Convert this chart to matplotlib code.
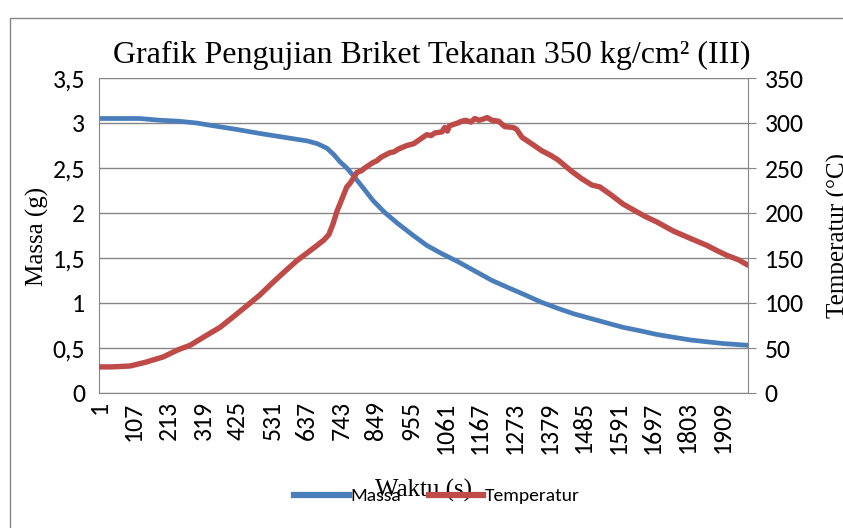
import matplotlib
matplotlib.use("Agg")
import matplotlib.pyplot as plt
from matplotlib.lines import Line2D
from matplotlib.patches import Rectangle
import logging

logging.getLogger("matplotlib.font_manager").setLevel(logging.ERROR)

# --- data ---
judul = "Grafik Pengujian Briket Tekanan 350 kg/cm² (III)"
n_data = 1989

massa_x = [1, 60, 125, 190, 245, 300, 350, 420, 500, 570, 640, 670, 699, 720, 739,
           760, 779, 810, 840, 875, 914, 960, 1005, 1050, 1100, 1150, 1205, 1255,
           1306, 1355, 1407, 1455, 1505, 1555, 1606, 1660, 1710, 1760, 1811, 1860,
           1912, 1989]
massa_y = [3.05, 3.05, 3.05, 3.03, 3.02, 3.00, 2.97, 2.93, 2.88, 2.84, 2.80, 2.77,
           2.72, 2.65, 2.57, 2.50, 2.42, 2.28, 2.14, 2.01, 1.89, 1.76, 1.64, 1.55,
           1.46, 1.36, 1.25, 1.17, 1.09, 1.01, 0.94, 0.88, 0.83, 0.78, 0.73, 0.69,
           0.65, 0.62, 0.59, 0.57, 0.55, 0.53]

suhu_x = [1, 40, 96, 142, 197, 243, 280, 330, 372, 410, 454, 494, 534, 570, 607,
          640, 669, 690, 705, 718, 730, 739, 750, 760, 770, 791, 805, 815, 840,
          852, 865, 892, 905, 918, 944, 965, 985, 1005, 1018, 1030, 1051, 1060,
          1068, 1075, 1100, 1112, 1125, 1140, 1152, 1165, 1175, 1190, 1205, 1225,
          1244, 1270, 1280, 1297, 1330, 1358, 1385, 1407, 1430, 1450, 1480, 1511,
          1535, 1570, 1606, 1640, 1675, 1710, 1760, 1811, 1863, 1895, 1924, 1960,
          1989]
suhu_y = [29, 29, 30, 34, 40, 48, 53, 64, 73, 84, 97, 109, 123, 135, 147,
          156, 164, 170, 176, 188, 202, 210, 220, 229, 233, 245, 247, 250, 256,
          258, 262, 267, 268, 271, 275, 277, 282, 287, 286, 289, 290, 295,
          291, 297, 300, 302, 303, 301, 305, 303, 304, 306, 303, 302,
          296, 295, 293, 284, 276, 269, 264, 259, 252, 246, 238, 231,
          229, 220, 210, 203, 196, 190, 180, 172, 164, 158, 153, 148,
          142]

x_ticks = list(range(1, n_data, 106))
y1_ticks = [0, 0.5, 1, 1.5, 2, 2.5, 3, 3.5]
y1_labels = ["0", "0,5", "1", "1,5", "2", "2,5", "3", "3,5"]
y2_ticks = [0, 50, 100, 150, 200, 250, 300, 350]

# --- styling ---
SERIF = ["Liberation Serif", "DejaVu Serif"]
SANS = ["Carlito", "Liberation Sans Narrow", "Liberation Sans", "DejaVu Sans"]
BIRU = "#4A7EBB"
MERAH = "#BE4B48"
ABU = "#868686"

W, H = 843, 528
fig = plt.figure(figsize=(W / 100, H / 100), dpi=100)
fig.patch.set_facecolor("white")

# outer chart border (runs off the right / bottom edge)
fig.patches.append(Rectangle((10 / W, -0.05), 1.0, 1 - 18 / H + 0.05,
                             transform=fig.transFigure, fill=False,
                             edgecolor=ABU, linewidth=1.0))

ax = fig.add_axes([99 / W, 1 - 393 / H, 649 / W, 315 / H])
ax.plot(massa_x, massa_y, color=BIRU, linewidth=3.4, solid_capstyle="round")
ax.set_xlim(1, n_data)
ax.set_ylim(0, 3.5)
ax.set_yticks(y1_ticks)
ax.set_yticklabels(y1_labels)
ax.set_xticks(x_ticks)
ax.set_xticklabels([str(t) for t in x_ticks], rotation=90)
ax.grid(axis="y", color=ABU, linewidth=1.0)
ax.set_axisbelow(True)
for s in ["left", "bottom", "right"]:
    ax.spines[s].set_color(ABU)
ax.spines["top"].set_visible(False)
ax.tick_params(axis="x", length=0, pad=6)
ax.tick_params(axis="y", length=0, pad=10)
for lab in ax.get_xticklabels() + ax.get_yticklabels():
    lab.set_family(SANS)
    lab.set_fontsize(18.5)

ax2 = ax.twinx()
ax2.plot(suhu_x, suhu_y, color=MERAH, linewidth=3.9, solid_capstyle="round")
ax2.set_ylim(0, 350)
ax2.set_yticks(y2_ticks)
for s in ax2.spines.values():
    s.set_visible(False)
ax2.tick_params(axis="y", length=6, color=ABU, pad=6)
for lab in ax2.get_yticklabels():
    lab.set_family(SANS)
    lab.set_fontsize(18.5)

fig.text(432 / W, 1 - 55 / H, judul, family=SERIF, fontsize=23,
         ha="center", va="center")
fig.text(37 / W, 1 - 236 / H, "Massa (g)", family=SERIF, fontsize=18,
         rotation=90, ha="center", va="center")
fig.text(838 / W, 1 - 236 / H, "Temperatur (°C)", family=SERIF, fontsize=18,
         rotation=90, ha="center", va="center")
fig.text(423 / W, 1 - 490 / H, "Waktu (s)", family=SERIF, fontsize=18,
         ha="center", va="center")

handles = [Line2D([], [], color=BIRU, linewidth=4.5),
           Line2D([], [], color=MERAH, linewidth=4.5)]
fig.legend(handles, ["Massa", "Temperatur"], loc="center",
           bbox_to_anchor=(437 / W, 1 - 496 / H), ncol=2, frameon=False,
           prop={"family": SANS, "size": 14}, handlelength=2.8,
           handletextpad=0.1, columnspacing=1.4)

fig.savefig("out.png", dpi=100)
